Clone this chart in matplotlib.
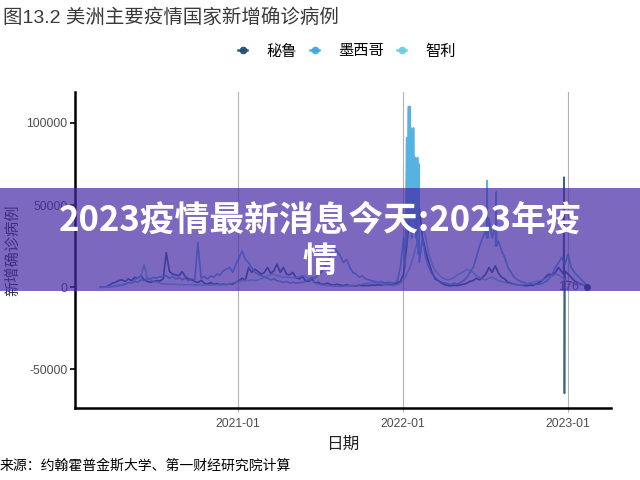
import matplotlib
matplotlib.use("Agg")
import matplotlib.pyplot as plt
import pandas as pd
from matplotlib.lines import Line2D
from matplotlib.patches import Rectangle
from matplotlib.legend_handler import HandlerTuple

plt.rcParams['font.family'] = ['Liberation Sans', 'Noto Sans CJK SC', 'DejaVu Sans']
plt.rcParams['axes.unicode_minus'] = False

# ---------------- data ----------------
series_names = ['秘鲁', '墨西哥', '智利']
week_start = '2020-03-02'
n_weeks = 155

peru = [
    0, 50, 300, 1200, 2500, 3000, 4000, 4500, 3500, 5000,
    4000, 6000, 5500, 7000, 4500, 3500, 3000, 3500, 4000, 3800,
    5000, 21000, 9500, 8000, 7500, 7000, 9500, 6500, 5000, 4500,
    3500, 2800, 4200, 2500, 2000, 2800, 1800, 2200, 1500, 2000,
    1600, 2200, 1800, 3000, 4000, 5500, 4000, 12000, 9000, 11000,
    9500, 8000, 9000, 12000, 8500, 10000, 14000, 9000, 12000, 8000,
    7500, 9000, 6000, 5000, 6500, 4000, 3500, 5000, 2500, 3000,
    2000, 1800, 2500, 1500, 1200, 1800, 1300, 1000, 1500, 900,
    1000, 800, 1200, 900, 1100, 1000, 1300, 1200, 1500, 1300,
    1600, 1800, 1500, 2000, 2500, 3500, 8000, 25000, 45000, 52000,
    38000, 48000, 30000, 22000, 15000, 9000, 5000, 4000, 2500, 1500,
    1000, 800, 1200, 900, 1500, 1800, 2500, 3500, 4000, 5500,
    4500, 6000, 8000, 12000, 9000, 13000, 8500, 6000, 5000, 3000,
    2500, 1800, 1500, 1200, 1000, 800, 1300, 1000, 2000, 3000,
    4500, 6500, 8000, 7000, 9000, 12000, 9500, 10000, 8000, 6000,
    4000, 2500, 2000, 1200, 800,
]
peru_extra_dates = ['2022-12-23', '2022-12-24', '2022-12-25']
peru_extra = [8000, 67000, -64600]

mexico = [
    0, 0, 50, 200, 500, 800, 1200, 1500, 2000, 2800,
    2500, 3500, 3000, 4500, 4000, 5500, 5000, 6000, 5500, 6500,
    6000, 7000, 5500, 6500, 5000, 6000, 4500, 5500, 4000, 5000,
    4500, 27000, 5500, 6500, 5000, 7000, 6000, 8000, 7500, 10000,
    11000, 12000, 9000, 14000, 18000, 22000, 17000, 15000, 12000, 9000,
    8000, 7000, 6000, 5500, 4500, 5000, 4000, 3500, 3000, 3500,
    2500, 3000, 2500, 2800, 3000, 3500, 4500, 6000, 5500, 8000,
    9000, 12000, 16000, 20000, 24000, 22000, 19000, 15000, 17000, 12000,
    9000, 8000, 6000, 7000, 5000, 4500, 4000, 3500, 3000, 3500,
    2500, 3000, 2800, 2500, 3500, 12000, 30000, 91000, 110000, 40000,
    78000, 15000, 30000, 18000, 12000, 8000, 6000, 4000, 3000, 2500,
    2000, 1500, 2500, 1800, 3000, 4000, 6000, 9000, 12000, 18000,
    25000, 30000, 35000, 42000, 30000, 38000, 28000, 22000, 18000, 12000,
    9000, 6000, 4500, 3500, 3000, 2000, 2500, 1500, 2000, 1800,
    2500, 3500, 5000, 8000, 12000, 15000, 18000, 14000, 20000, 12000,
    9000, 7000, 5000, 3000, 1500,
]
mexico_extra_dates = [
    '2022-01-06', '2022-01-08', '2022-01-11', '2022-01-13', '2022-01-14',
    '2022-01-16', '2022-01-18', '2022-01-19', '2022-01-21', '2022-01-22',
    '2022-01-25', '2022-01-27', '2022-01-28', '2022-01-30', '2022-02-02',
    '2022-02-03', '2022-02-05', '2022-02-06',
    '2022-07-06', '2022-07-07', '2022-07-08',
    '2022-07-26', '2022-07-27', '2022-07-28',
]
mexico_extra = [
    12000, 45000, 25000, 91000, 110000,
    40000, 35000, 97000, 30000, 96000,
    97000, 35000, 79000, 30000, 25000,
    79000, 20000, 75000,
    30000, 65000, 30000,
    25000, 58000, 25000,
]

chile = [
    0, 0, 100, 300, 400, 500, 800, 1200, 1500, 2500,
    3000, 4500, 5500, 6500, 14000, 5000, 4500, 3500, 3000, 2500,
    2000, 2000, 1800, 1700, 1800, 1600, 1700, 1500, 1600, 1500,
    1400, 1500, 1300, 1400, 1500, 1300, 1400, 1600, 1500, 1700,
    1800, 2200, 2500, 3000, 3500, 4000, 4200, 4000, 4500, 4000,
    4500, 5000, 6000, 7000, 7500, 8000, 7000, 6500, 6000, 6200,
    5800, 6000, 5500, 6500, 7000, 6500, 5000, 4000, 2500, 1800,
    1500, 1200, 1000, 900, 700, 600, 500, 600, 700, 800,
    900, 1100, 1500, 1800, 2200, 2500, 3000, 2800, 2500, 2000,
    1500, 1300, 1100, 1200, 1500, 2500, 4000, 8000, 12000, 18000,
    25000, 35000, 38000, 30000, 20000, 14000, 10000, 8000, 6000, 5000,
    4500, 5000, 6000, 7500, 8500, 9500, 11000, 10000, 9000, 7000,
    6000, 5000, 4500, 5500, 6000, 5000, 4000, 3500, 3000, 2500,
    2000, 1800, 1500, 1300, 1500, 2000, 2500, 3000, 3500, 4000,
    4500, 5500, 6500, 7000, 8000, 7500, 6000, 4500, 3500, 3000,
    2500, 2000, 1500, 1200, 176,
]
chile_extra_dates = []
chile_extra = []

x_ticks = ['2021-01-01', '2022-01-01', '2023-01-01']
x_tick_labels = ['2021-01', '2022-01', '2023-01']
y_ticks = [-50000, 0, 50000, 100000]
y_tick_labels = ['-50000', '0', '50000', '100000']

colors = ['#1b4f72', '#3fa8dc', '#6bcde0']

# ---------------- build ----------------
weeks = pd.date_range(week_start, periods=n_weeks, freq='7D')


def build(base, ex_dates, ex_vals):
    s = pd.Series(base, index=weeks, dtype=float)
    if ex_dates:
        e = pd.Series(ex_vals, index=pd.to_datetime(ex_dates), dtype=float)
        s = pd.concat([s, e])
    return s.sort_index()


all_series = [build(peru, peru_extra_dates, peru_extra),
              build(mexico, mexico_extra_dates, mexico_extra),
              build(chile, chile_extra_dates, chile_extra)]

fig = plt.figure(figsize=(6.4, 4.8), dpi=100)
ax = fig.add_axes([75 / 640, 1 - 408 / 480, (611 - 75) / 640, (408 - 92) / 480])

for s, c in zip(all_series, colors):
    ax.plot(s.index, s.values, color=c, lw=1.2, alpha=0.88, zorder=3)

# end label
last = all_series[2]
ax.plot([last.index[-1]], [last.values[-1]], 'o', color='#1b4f72', ms=4, zorder=4)
ax.annotate(str(int(last.values[-1])), (last.index[-1], last.values[-1]),
            xytext=(-6, 0), textcoords='offset points', ha='right', va='center',
            fontsize=9, color='#555555', zorder=4)

ax.set_xlim(pd.Timestamp('2020-01-07'), pd.Timestamp('2023-04-07'))
ax.set_ylim(-73500, 118800)
ax.set_xticks(pd.to_datetime(x_ticks))
ax.set_xticklabels(x_tick_labels)
ax.set_yticks(y_ticks)
ax.set_yticklabels(y_tick_labels)
ax.grid(axis='x', color='#b3b3b3', lw=0.8)
ax.grid(axis='y', visible=False)
ax.set_axisbelow(True)
for sp in ['top', 'right']:
    ax.spines[sp].set_visible(False)
for sp in ['left', 'bottom']:
    ax.spines[sp].set_linewidth(1.8)
    ax.spines[sp].set_color('black')
ax.tick_params(axis='y', length=3.5, width=1.2, color='black', labelsize=8.8,
               labelcolor='#4d4d4d', pad=2)
ax.tick_params(axis='x', length=3, width=0.8, color='#b3b3b3', labelsize=8.8,
               labelcolor='#4d4d4d', pad=4)
ax.set_xlabel('日期', fontsize=12, color='#222222', labelpad=5)
ax.set_ylabel('新增确诊病例', fontsize=11, color='#333333')
ax.yaxis.set_label_coords(-55 / 536, 0.5)

# title, caption
fig.text(3 / 640, 1 - 18 / 480, '图13.2 美洲主要疫情国家新增确诊病例', fontsize=14,
         color='#3a3a3a', ha='left', va='center')
fig.text(0, 1 - 466 / 480, '来源：约翰霍普金斯大学、第一财经研究院计算', fontsize=10,
         color='black', ha='left', va='center',
         family=['Noto Sans CJK SC', 'DejaVu Sans'])

# legend
handles = []
for c in colors:
    l = Line2D([], [], color=c, lw=1.8, marker='o', ms=4.5, alpha=0.9)
    a = Line2D([], [], color='white', lw=0, marker='$a$', ms=3.5, alpha=0.8)
    handles.append((l, a))
fig.legend(handles, series_names, loc='center', bbox_to_anchor=(347 / 640, 1 - 51 / 480),
           ncol=3, frameon=False, handlelength=1.2, handletextpad=0.65,
           columnspacing=0.85, handler_map={tuple: HandlerTuple(ndivide=None, pad=0)},
           prop={'family': ['Noto Sans CJK SC'], 'size': 11})

# overlay banner
fig.patches.append(Rectangle((0, 1 - 291 / 480), 1, (291 - 188) / 480,
                             transform=fig.transFigure, facecolor='#4529a5',
                             alpha=0.7, edgecolor='none', zorder=10))
fig.text(0.5, 1 - 220 / 480, '2023疫情最新消息今天:2023年疫', fontsize=25,
         fontweight='bold', color='white', ha='center', va='center', zorder=11,
         family=['Noto Sans CJK SC', 'DejaVu Sans'])
fig.text(0.5, 1 - 261 / 480, '情', fontsize=25,
         fontweight='bold', color='white', ha='center', va='center', zorder=11,
         family=['Noto Sans CJK SC', 'DejaVu Sans'])

fig.savefig('out.png', dpi=100)
